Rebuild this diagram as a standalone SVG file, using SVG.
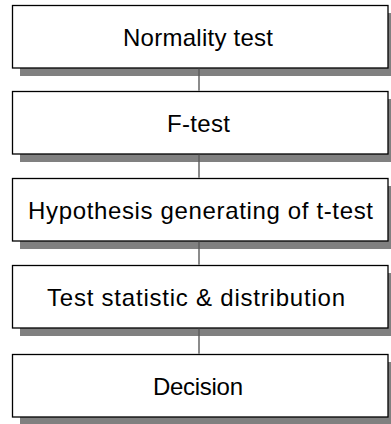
<svg xmlns="http://www.w3.org/2000/svg" width="391" height="424" viewBox="0 0 391 424">
  <style>
    .shadow { fill: #808080; }
    .box { fill: #ffffff; stroke: #000000; stroke-width: 1.3; }
    .label { font-family: "Liberation Sans", Arial, sans-serif; font-size: 24px; fill: #000000; text-anchor: middle; }
    .conn { stroke: #5a5a5a; stroke-width: 1.4; fill: none; }
  </style>
  <rect width="391" height="424" fill="#ffffff"/>
  <g id="node-normality">
    <rect class="shadow" x="20" y="13" width="376" height="63"/>
    <rect class="box" x="12.5" y="5.5" width="375.5" height="62.5"/>
    <text class="label" x="198" y="45.5" textLength="150" lengthAdjust="spacing">Normality test</text>
  </g>
  <g id="node-ftest">
    <rect class="shadow" x="20" y="99" width="376" height="63"/>
    <rect class="box" x="12.5" y="91.5" width="375.5" height="62.5"/>
    <text class="label" x="198.5" y="131.5" textLength="63" lengthAdjust="spacing">F-test</text>
  </g>
  <g id="node-hypothesis">
    <rect class="shadow" x="20" y="186" width="376" height="63"/>
    <rect class="box" x="12.5" y="178.5" width="375.5" height="62.5"/>
    <text class="label" x="200.5" y="218.5" textLength="345" lengthAdjust="spacing">Hypothesis generating of t-test</text>
  </g>
  <g id="node-statistic">
    <rect class="shadow" x="20" y="273" width="376" height="63"/>
    <rect class="box" x="12.5" y="265.5" width="375.5" height="62.5"/>
    <text class="label" x="196" y="305.5" textLength="298" lengthAdjust="spacing">Test statistic &amp; distribution</text>
  </g>
  <g id="node-decision">
    <rect class="shadow" x="20" y="362" width="376" height="63"/>
    <rect class="box" x="12.5" y="354.5" width="375.5" height="62.5"/>
    <text class="label" x="198" y="394.5" textLength="90" lengthAdjust="spacing">Decision</text>
  </g>
  <g id="connectors">
    <line class="conn" x1="199" y1="68.7" x2="199" y2="90.8"/>
    <line class="conn" x1="199" y1="154.7" x2="199" y2="177.8"/>
    <line class="conn" x1="199" y1="241.7" x2="199" y2="264.8"/>
    <line class="conn" x1="199" y1="328.7" x2="199" y2="353.8"/>
  </g>
</svg>
